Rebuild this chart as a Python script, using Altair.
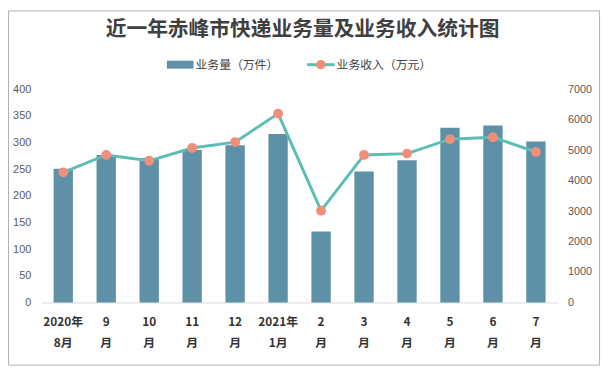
import altair as alt
import pandas as pd

months = ["2020年\n8月", "9\n月", "10\n月", "11\n月", "12\n月", "2021年\n1月",
          "2\n月", "3\n月", "4\n月", "5\n月", "6\n月", "7\n月"]
volume = [251, 277, 271, 286, 295, 316, 133, 246, 267, 328, 332, 302]
revenue = [4275, 4846, 4653, 5073, 5267, 6204, 3015, 4846, 4889, 5363, 5428, 4943]

title_text = "近一年赤峰市快递业务量及业务收入统计图"
legend_bar = "业务量（万件）"
legend_line = "业务收入（万元）"

BAR_COLOR = "#5E90A7"
LINE_COLOR = "#5CBDB5"
POINT_COLOR = "#EF8F79"
CJK = "Noto Sans CJK SC"
NUM = "Liberation Sans"

df = pd.DataFrame({"month": months, "volume": volume, "revenue": revenue})

x_axis = alt.Axis(
    title=None, labelAngle=0, ticks=False, domain=True, domainColor="#D9D9D9",
    domainWidth=1, labelExpr="split(datum.label, '\\n')", labelFont=CJK,
    labelFontSize=12, labelFontWeight="bold", labelColor="#333333",
    labelLineHeight=22, labelPadding=14, grid=False,
)
x_enc = alt.X("month:N", sort=months, axis=x_axis,
              scale=alt.Scale(paddingInner=0.55, paddingOuter=0.28))

bars = alt.Chart(df).mark_bar(color=BAR_COLOR).encode(
    x=x_enc,
    y=alt.Y("volume:Q", scale=alt.Scale(domain=[0, 400]),
            axis=alt.Axis(title=None, orient="left", values=list(range(0, 401, 50)),
                          format="d", ticks=False, domain=False, grid=False, labelFont=NUM,
                          labelFontSize=11, labelColor="#595959", labelPadding=11)),
)

right_axis = alt.Axis(title=None, orient="right", values=list(range(0, 7001, 1000)),
                      format="d", ticks=False, domain=False, grid=False, labelFont=NUM,
                      labelFontSize=11, labelColor="#595959", labelPadding=10)
y_right = alt.Y("revenue:Q", scale=alt.Scale(domain=[0, 7000]), axis=right_axis)

line = alt.Chart(df).mark_line(color=LINE_COLOR, strokeWidth=3).encode(
    x=x_enc, y=y_right)
points = alt.Chart(df).mark_point(filled=True, color=POINT_COLOR, size=100, opacity=1).encode(
    x=x_enc, y=y_right)

one = pd.DataFrame({"t": [title_text]})

frame = alt.Chart(one).mark_rect(fill=None, stroke="#B0B0B0", strokeWidth=1).encode(
    x=alt.value(-33.5), x2=alt.value(565.5), y=alt.value(-79.5), y2=alt.value(279.5))

title = alt.Chart(one).mark_text(font=CJK, fontSize=21, fontWeight="bold",
                                 color="#3F3F3F", align="center", baseline="middle").encode(
    x=alt.value(264.5), y=alt.value(-60), text="t:N")

leg_rect = alt.Chart(one).mark_rect(color=BAR_COLOR).encode(
    x=alt.value(127), x2=alt.value(154), y=alt.value(-29), y2=alt.value(-21))
leg_text1 = alt.Chart(pd.DataFrame({"t": [legend_bar]})).mark_text(
    font=CJK, fontSize=12, color="#404040", align="left", baseline="middle").encode(
    x=alt.value(156), y=alt.value(-25), text="t:N")
leg_line = alt.Chart(one).mark_rule(color=LINE_COLOR, strokeWidth=3).encode(
    x=alt.value(269), x2=alt.value(297), y=alt.value(-25))
leg_point = alt.Chart(one).mark_point(filled=True, color=POINT_COLOR, size=90, opacity=1).encode(
    x=alt.value(283), y=alt.value(-25))
leg_text2 = alt.Chart(pd.DataFrame({"t": [legend_line]})).mark_text(
    font=CJK, fontSize=12, color="#404040", align="left", baseline="middle").encode(
    x=alt.value(299), y=alt.value(-25), text="t:N")

chart = alt.layer(
    bars, alt.layer(line, points), frame, title,
    leg_rect, leg_text1, leg_line, leg_point, leg_text2,
).resolve_scale(y="independent").properties(
    width=523, height=216,
    autosize=alt.AutoSizeParams(type="none"),
    padding={"left": 34, "top": 80, "right": 47, "bottom": 67},
).configure_view(stroke=None)

chart.save("out.html", embed_options={"renderer": "svg", "actions": False})
